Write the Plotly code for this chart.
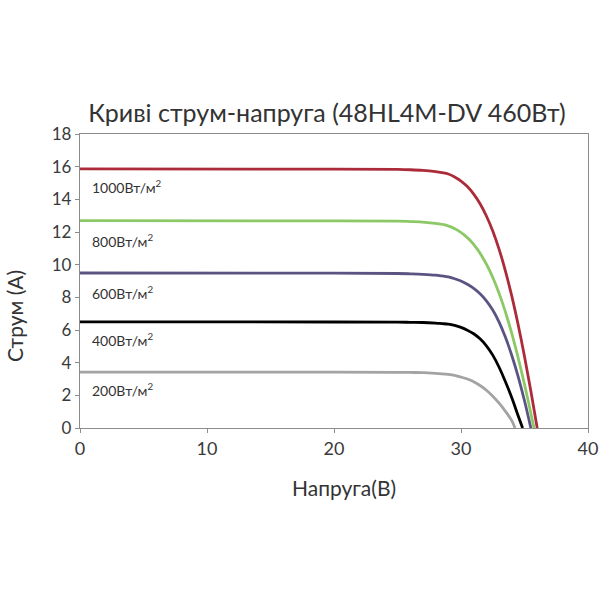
import plotly.graph_objects as go

# Data (Voltage V, Current A)
v_1000 = [0, 20, 25, 26, 27, 28, 28.5, 29, 29.5, 30, 30.5, 31, 31.5, 32, 32.5, 33, 33.5, 34, 34.5, 35,
          35.5, 36.0]
i_1000 = [15.86, 15.85, 15.83, 15.81, 15.77, 15.69, 15.63, 15.55, 15.37, 15.12, 14.78, 14.32, 13.73, 12.98,
          12.06, 10.94, 9.61, 8.07, 6.32, 4.38, 2.26, 0]

v_800 = [0, 20, 25, 26, 26.75, 27.75, 28.25, 28.75, 29.25, 29.75, 30.25, 30.75, 31.25, 31.75, 32.25,
         32.75, 33.25, 33.75, 34.25, 34.75, 35.25, 35.75]
i_800 = [12.70, 12.68, 12.66, 12.64, 12.62, 12.55, 12.50, 12.44, 12.30, 12.10, 11.82, 11.46, 10.98, 10.38,
         9.65, 8.75, 7.69, 6.46, 5.06, 3.50, 1.81, 0]

v_600 = [0, 20, 25, 26, 27, 28, 28.5, 29, 29.5, 30, 30.5, 31, 31.5, 32, 32.5, 33, 33.5, 34, 34.5, 35,
         35.5]
i_600 = [9.49, 9.48, 9.46, 9.44, 9.41, 9.36, 9.31, 9.25, 9.14, 9.00, 8.80, 8.55, 8.22, 7.79, 7.22, 6.48,
         5.55, 4.44, 3.15, 1.67, 0]

v_400 = [0, 20, 25, 26, 27, 28, 28.5, 29, 29.5, 30, 30.5, 31, 31.5, 32, 32.5, 33, 33.5, 34, 34.5, 34.85]
i_400 = [6.50, 6.49, 6.48, 6.47, 6.46, 6.42, 6.39, 6.36, 6.28, 6.16, 5.99, 5.77, 5.46, 5.03, 4.46, 3.72,
         2.83, 1.85, 0.75, 0]

v_200 = [0, 20, 25, 26, 27, 28, 28.5, 29, 29.5, 30, 30.5, 31, 31.5, 32, 32.5, 33, 33.5, 34, 34.25]
i_200 = [3.42, 3.42, 3.41, 3.40, 3.39, 3.35, 3.32, 3.28, 3.22, 3.12, 3.00, 2.83, 2.60, 2.31, 1.95, 1.52,
         1.02, 0.45, 0]

labels = ["1000Вт/м<sup>2</sup>", "800Вт/м<sup>2</sup>", "600Вт/м<sup>2</sup>",
          "400Вт/м<sup>2</sup>", "200Вт/м<sup>2</sup>"]
label_x = [0.8, 0.8, 0.8, 0.8, 0.8]
label_y = [14.8, 11.5, 8.27, 5.39, 2.33]

colors = ["#AC2B3A", "#8DC866", "#5A5483", "#000000", "#A3A3A3"]

series = [(v_1000, i_1000), (v_800, i_800), (v_600, i_600), (v_400, i_400), (v_200, i_200)]

FONT = "Lato, DejaVu Sans, sans-serif"

fig = go.Figure()
for (vx, iy), c in zip(series, colors):
    fig.add_trace(go.Scatter(x=vx, y=iy, mode="lines",
                             line=dict(color=c, width=2.8, shape="spline", smoothing=1.0),
                             showlegend=False, hoverinfo="skip"))

for t, lx, ly in zip(labels, label_x, label_y):
    fig.add_annotation(x=lx, y=ly, text=t, showarrow=False, xanchor="left", yanchor="middle",
                       font=dict(size=14, color="#333333", family=FONT))

# Axis titles (placed as in the reference)
fig.add_annotation(xref="paper", yref="paper", x=0.52, y=-0.204, text="Напруга(В)", showarrow=False,
                   xanchor="center", yanchor="middle", font=dict(size=21, color="#333333", family=FONT))
fig.add_annotation(xref="paper", yref="paper", x=-0.128, y=0.381, text="Струм (А)", showarrow=False,
                   textangle=-90, xanchor="center", yanchor="middle",
                   font=dict(size=21, color="#333333", family=FONT))

axis_common = dict(showgrid=False, zeroline=False, showline=True, linecolor="#8C8C8C",
                   linewidth=1.3, mirror=True, ticks="outside", ticklen=4, tickcolor="#8C8C8C",
                   automargin=False)

fig.update_xaxes(range=[0, 40], dtick=10, tick0=0, tickfont=dict(size=18, color="#3A3A3A"),
                 **axis_common)
fig.update_yaxes(range=[0, 18], dtick=2, tick0=0, tickfont=dict(size=17, color="#3A3A3A"),
                 **axis_common)

fig.update_layout(
    width=600, height=600, autosize=False,
    margin=dict(l=80, r=12, t=134, b=172, autoexpand=False),
    paper_bgcolor="white", plot_bgcolor="white",
    font=dict(family=FONT, color="#333333"),
    title=dict(text="Криві струм-напруга (48HL4M-DV 460Вт)", x=0.545, xanchor="center",
               y=1 - 113 / 600, yanchor="middle", font=dict(size=25, color="#333333")),
)

fig.write_html("out.html", config={"responsive": False})
